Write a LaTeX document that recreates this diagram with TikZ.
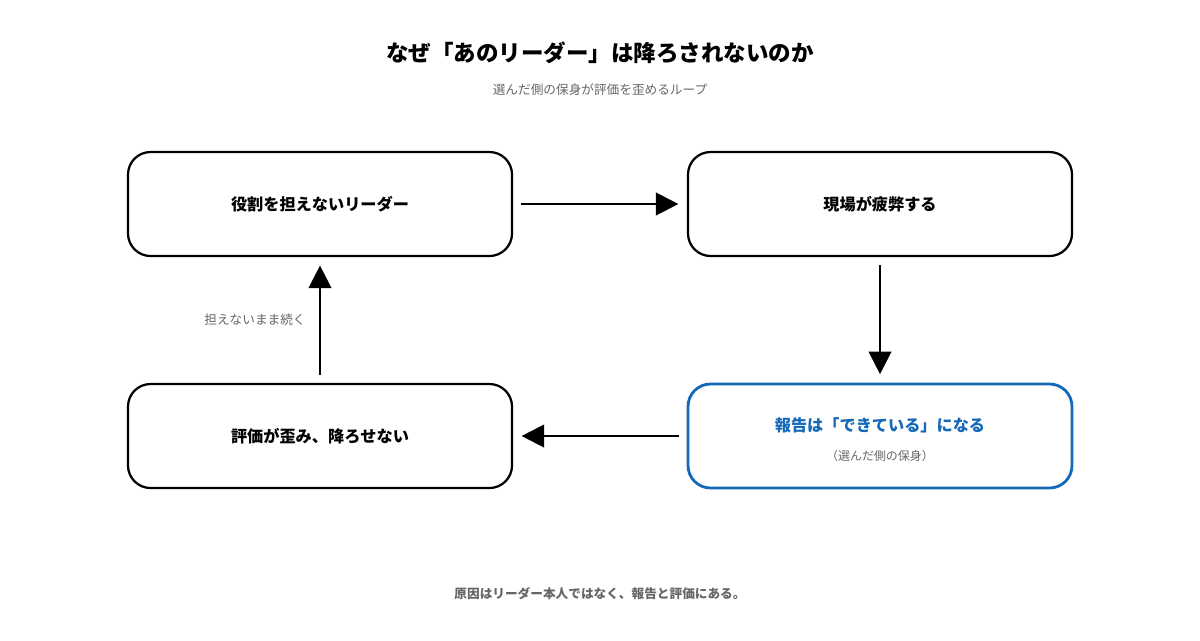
\documentclass[tikz,border=0pt]{standalone}
\usepackage{fontspec}
\setmainfont{Noto Sans CJK JP}
\usetikzlibrary{arrows.meta}
\definecolor{accent}{HTML}{1569B8}
\definecolor{subgray}{HTML}{666666}
\tikzset{
    stepbox/.style={draw=black, line width=1.6pt, rounded corners=16pt, minimum width=384*0.025cm, minimum height=104*0.025cm, font=\bfseries\fontsize{11.5}{14}\selectfont},
    flow/.style={line width=1.6pt, shorten >=6pt, -{Triangle[length=16pt, width=16pt]}}
}
\begin{document}
\begin{tikzpicture}[x=0.025cm, y=-0.025cm]
    % Frame
    \useasboundingbox (0,0) rectangle (1200,640);
    % Titles
    \node (title) at (600,53) {\bfseries\fontsize{16}{19}\selectfont なぜ「あのリーダー」は降ろされないのか};
    \node[text=subgray] (subtitle) at (600,90) {\fontsize{9}{11}\selectfont 選んだ側の保身が評価を歪めるループ};
    % Boxes
    \node[stepbox] (leader) at (320,204) {役割を担えないリーダー};
    \node[stepbox] (field) at (880,204) {現場が疲弊する};
    \node[stepbox, draw=accent, line width=2pt] (report) at (880,436) {};
    \node[text=accent, font=\bfseries\fontsize{11.5}{14}\selectfont] (reporttext) at (880,425) {報告は「できている」になる};
    \node[text=subgray, font=\fontsize{8.5}{10}\selectfont] (reportsub) at (880,456) {（選んだ側の保身）};
    \node[stepbox] (eval) at (320,436) {評価が歪み、降ろせない};
    % Arrows
    \draw[flow] (leader.east) ++(8,0) coordinate (a1) -- (a1 -| field.west);
    \draw[flow] (field.south) ++(0,8) coordinate (a2) -- (a2 |- report.north);
    \draw[flow] (report.west) ++(-8,0) coordinate (a3) -- (a3 -| eval.east);
    \draw[flow] (eval.north) ++(0,-8) coordinate (a4) -- (a4 |- leader.south);
    \node[text=subgray, font=\fontsize{9}{11}\selectfont] (keep) at (255,320) {担えないまま続く};
    % Footer
    \node[text=subgray] (footer) at (600,594) {\bfseries\fontsize{9}{11}\selectfont 原因はリーダー本人ではなく、報告と評価にある。};
\end{tikzpicture}
\end{document}
